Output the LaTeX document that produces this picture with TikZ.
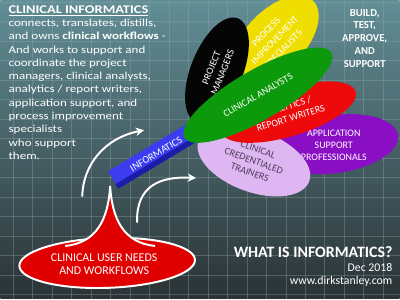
\documentclass[tikz,border=0pt]{standalone}
\usepackage{fontspec}
\setmainfont{Carlito}
\newfontfamily\widebody{Carlito}[FakeStretch=1.22]
\usetikzlibrary{arrows.meta,shapes.geometric,calc}
\definecolor{BgTop}{RGB}{98,142,150}
\definecolor{BgMid}{RGB}{66,86,90}
\definecolor{BgBot}{RGB}{42,50,53}
\definecolor{GridLine}{RGB}{150,170,172}
\definecolor{PMBlack}{HTML}{050505}
\definecolor{PISYellow}{HTML}{F0DE00}
\definecolor{CAGreen}{HTML}{0C9A0C}
\definecolor{ARRed}{HTML}{EE0A0A}
\definecolor{ASPurple}{HTML}{8A0EC4}
\definecolor{CTLavender}{HTML}{DDB6F2}
\definecolor{CTText}{HTML}{4A3C55}
\definecolor{BarTop}{HTML}{3C3CF0}
\definecolor{BarSide}{HTML}{1C1CA8}
\definecolor{NeedRed}{HTML}{E00000}
\newcommand{\upx}{0.025cm}

\begin{document}
\begin{tikzpicture}[
  x=0.025cm, y=-0.025cm,
  font=\fontsize{7.6}{9.4}\selectfont,
  gridline/.style={draw=GridLine, opacity=.35, line width=.5pt},
  role/.style={ellipse, inner sep=0pt, align=center, text=white,
    font=\fontsize{7.1}{8.6}\selectfont},
  barbox/.style={rectangle, fill=BarTop, inner sep=0pt, text=white,
    minimum width={100*\upx}, minimum height={20*\upx},
    font=\fontsize{7.4}{8}\selectfont},
  needs/.style={ellipse, fill=NeedRed, draw=white, line width=1.4pt,
    minimum width={176*\upx}, minimum height={50*\upx}, inner sep=0pt},
  swoosh/.style={draw=white, line width=1.4pt, line cap=round,
    -{Stealth[length=2.1mm,width=2.1mm]}},
  note/.style={text=white, inner sep=0pt}
]

% Chalkboard background with its grid.
\shade[top color=BgTop, middle color=BgMid, bottom color=BgBot] (0,0) rectangle (400,299);
\foreach \gx in {13,32.5,...,400} \draw[gridline] (\gx,0) -- (\gx,299);
\foreach \gy in {2,21.5,...,299} \draw[gridline] (0,\gy) -- (400,\gy);
\useasboundingbox (0,0) rectangle (400,299);

% Left text block.
\node[note, anchor=north west, align=left, font=\widebody\fontsize{7.6}{9.45}\selectfont] (intro) at (8,5)
  {{\fontsize{8.4}{9.45}\selectfont\bfseries\underline{CLINICAL INFORMATICS}}\\
   connects, translates, distills,\\
   and owns \textbf{clinical workflows} -\\
   And works to support and\\
   coordinate the project\\
   managers, clinical analysts,\\
   analytics / report writers,\\
   application support, and\\
   process improvement\\
   specialists\\
   who support\\
   them.};

\node[note, align=center, font=\fontsize{7.6}{9.1}\selectfont\bfseries] (build) at (365,38)
  {BUILD,\\TEST,\\APPROVE,\\AND\\SUPPORT};

% The informatics bar, under the role ellipses.
\node[barbox, rotate=31] (bar) at (156,154) {INFORMATICS};
\fill[BarSide] (bar.south west) -- (bar.south east)
  -- ($(bar.south east)!.26!(bar.north east)$) -- ($(bar.south west)!.26!(bar.north west)$) -- cycle;

% Roles, back to front.
\node[role, fill=PISYellow, minimum width={110*\upx}, minimum height={60*\upx}, rotate=46]
  (pis) at (275,40) {PROCESS\\IMPROVEMENT\\SPECIALISTS};
\node[role, fill=ASPurple, minimum width={128*\upx}, minimum height={58*\upx}, rotate=8]
  (asp) at (335,144) {};
\node[role] (asptext) at (334,145) {APPLICATION\\SUPPORT\\PROFESSIONALS};
\node[role, fill=CTLavender, text=CTText, minimum width={118*\upx}, minimum height={62*\upx}, rotate=-20]
  (cct) at (254,161) {CLINICAL\\CREDENTIALED\\TRAINERS};
\node[role, fill=PMBlack, minimum width={112*\upx}, minimum height={52*\upx}, rotate=68]
  (pm) at (217,70) {PROJECT\\MANAGERS};
\node[role, fill=ARRed, minimum width={140*\upx}, minimum height={48*\upx}, rotate=17]
  (arw) at (289,112) {ANALYTICS /\\REPORT WRITERS};
\node[role, fill=CAGreen, minimum width={170*\upx}, minimum height={50*\upx}, rotate=30]
  (ca) at (258,95) {CLINICAL ANALYSTS};

% Clinical user needs, rising to the bar.
\node[needs, rotate=2] (needs) at (107,263) {};
\coordinate (tip) at (110,186);
\fill[NeedRed] (65,246) .. controls (96,243) and (108,220) .. (tip)
  .. controls (112,220) and (124,243) .. (155,246) -- cycle;
\draw[white, line width=1.4pt] (65,246) .. controls (96,243) and (108,220) .. (tip)
  .. controls (112,220) and (124,243) .. (155,246);
\node[note, align=center, font=\fontsize{8.5}{9.3}\selectfont] (needstext) at (104,264)
  {CLINICAL USER NEEDS\\AND WORKFLOWS};

% Swooshes.
\coordinate (upA) at (82,196);
\coordinate (upB) at (144,130);
\coordinate (loA) at (137,222);
\coordinate (loB) at (196,178);
\draw[swoosh] (upA) .. controls (83,165) and (104,138) .. (upB);
\draw[swoosh] (loA) .. controls (136,186) and (160,176) .. (loB);

% Caption.
\node[note, anchor=east, font=\fontsize{11.3}{12}\selectfont\bfseries] (title) at (393,252) {WHAT IS INFORMATICS?};
\node[note, anchor=east, font=\fontsize{8.4}{10}\selectfont] (date) at (393,268) {Dec 2018};
\node[note, anchor=east, font=\fontsize{8.4}{10}\selectfont] (site) at (393,281) {www.dirkstanley.com};
\end{tikzpicture}
\end{document}
